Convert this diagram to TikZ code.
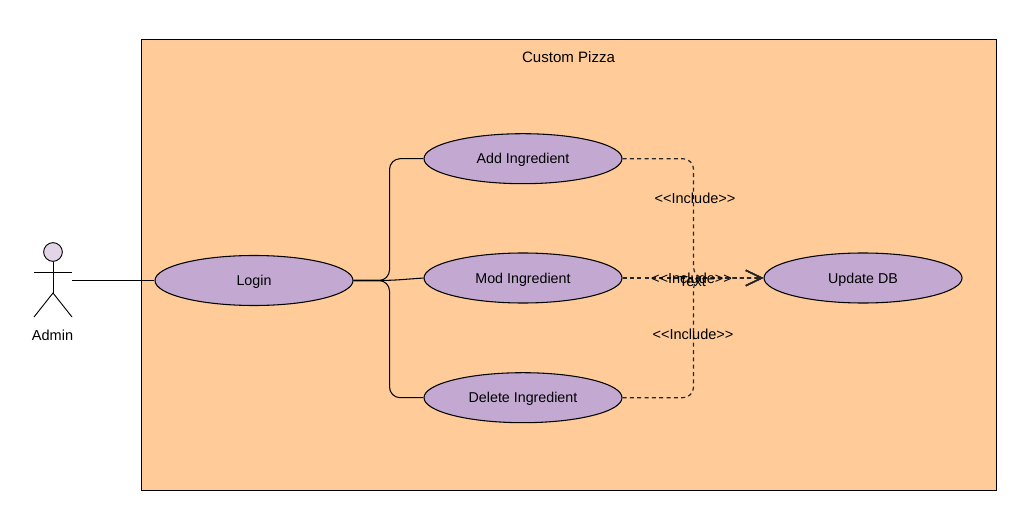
\documentclass[tikz,border=0pt]{standalone}
\usepackage{fontspec}
\setmainfont{Liberation Sans}
\usetikzlibrary{shapes.geometric,arrows.meta}
\definecolor{pizzabg}{HTML}{FFCC99}
\definecolor{usecase}{HTML}{C3A9D1}
\definecolor{actorhead}{HTML}{E1D5E7}
\tikzset{
  usecasenode/.style={draw,ellipse,fill=usecase,line width=0.8pt,minimum width=148.5pt,minimum height=37.5pt,inner sep=0pt,text depth=0pt,font=\fontsize{10.7}{12}\selectfont},
  lbl/.style={inner sep=0pt,font=\fontsize{10.9}{12}\selectfont},
  assoc/.style={line width=0.8pt,rounded corners=8pt},
  includes/.style={line width=0.9pt,black!85,dash pattern=on 3pt off 2.5pt,rounded corners=8pt,-{Straight Barb[length=12pt,width=11.5pt,line width=1.1pt]}},
  stick/.style={line width=0.7pt}
}
\begin{document}
\begin{tikzpicture}[x=0.75pt,y=-0.75pt]
    \useasboundingbox (0,0) rectangle (1019,513);

    % System boundary
    \draw[fill=pizzabg,line width=0.7pt] (141.5,39) rectangle (996.5,490);
    \node[lbl,font=\fontsize{11.3}{12}\selectfont] (title) at (568.5,57) {Custom Pizza};

    % Actor
    \node[draw,circle,fill=actorhead,stick,minimum size=14pt,inner sep=0pt] (head) at (53,252) {};
    \coordinate (hip) at (53,293);
    \coordinate (handl) at (34,272);
    \coordinate (handr) at (72,272);
    \coordinate (footl) at (34,317);
    \coordinate (footr) at (72,317);
    \coordinate (grip) at (72,280.5);
    \draw[stick] (head.south) -- (hip);
    \draw[stick] (handl) -- (handr);
    \draw[stick] (footl) -- (hip) -- (footr);
    \node[lbl] (admin) at (52.5,335.5) {Admin};

    % Use cases
    \node[usecasenode] (login) at (254,280.5) {Login};
    \node[usecasenode] (add) at (523,158.7) {Add Ingredient};
    \node[usecasenode] (mod) at (523,278) {Mod Ingredient};
    \node[usecasenode] (del) at (523,397.7) {Delete Ingredient};
    \node[usecasenode] (update) at (863,278) {Update DB};

    % Associations
    \draw[line width=0.7pt] (grip) -- (login.west);
    \draw[assoc] (login.east) -- ++(36,0) |- (add.west);
    \draw[assoc] (login.east) -- ++(36,0) -- (mod.west);
    \draw[assoc] (login.east) -- ++(36,0) |- (del.west);

    % Include dependencies
    \draw[includes] (add.east) -- ++(71,0) |- (update.west);
    \draw[includes] (mod.east) -- (update.west);
    \draw[includes] (del.east) -- ++(71,0) |- (update.west);
    \node[lbl] (inca) at (695,198) {<{}<Include>{}>};
    \node[lbl] (incb) at (691.5,278.5) {<{}<Include>{}>};
    \node[lbl] (incc) at (693,334) {<{}<Include>{}>};
    \node[lbl] (txt) at (692.5,282) {Text};
\end{tikzpicture}
\end{document}
